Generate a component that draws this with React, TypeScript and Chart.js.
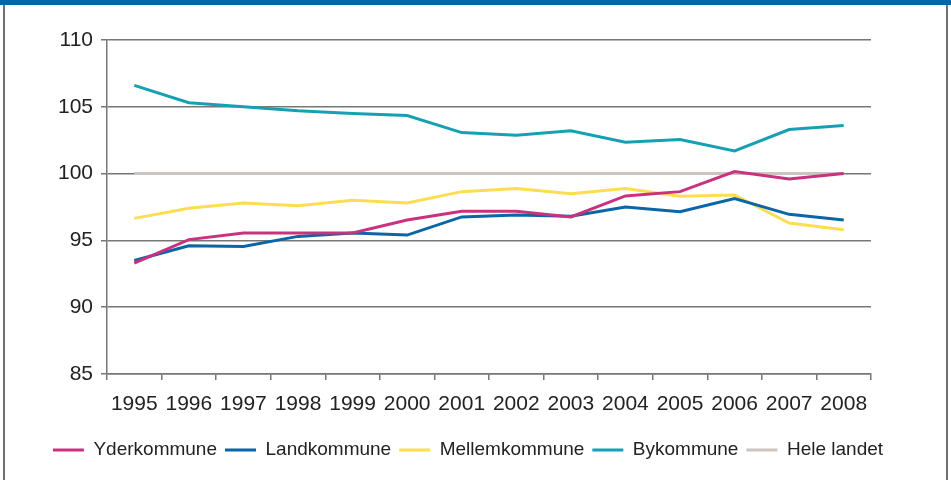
import React, { useEffect, useRef } from "react";
import { Chart, registerables } from "chart.js";

Chart.register(...registerables);

const years = ["1995", "1996", "1997", "1998", "1999", "2000", "2001", "2002", "2003", "2004", "2005", "2006", "2007", "2008"];
const yderkommune = [93.3, 95.06, 95.56, 95.56, 95.56, 96.53, 97.18, 97.18, 96.76, 98.33, 98.65, 100.15, 99.6, 100.0];
const landkommune = [93.5, 94.6, 94.55, 95.3, 95.56, 95.4, 96.76, 96.9, 96.8, 97.5, 97.15, 98.13, 96.95, 96.53];
const mellemkommune = [96.65, 97.4, 97.8, 97.6, 98.0, 97.8, 98.65, 98.88, 98.5, 98.88, 98.3, 98.4, 96.3, 95.8];
const bykommune = [106.6, 105.3, 105.0, 104.7, 104.5, 104.35, 103.07, 102.87, 103.2, 102.35, 102.55, 101.7, 103.3, 103.6];
const heleLandet = [100, 100, 100, 100, 100, 100, 100, 100, 100, 100, 100, 100, 100, 100];

const FONT = "'Liberation Sans', Arial, sans-serif";

export default function App() {
  const ref = useRef<HTMLCanvasElement | null>(null);

  useEffect(() => {
    if (!ref.current) return;
    const mk = (label: string, data: number[], color: string) => ({
      label,
      data,
      borderColor: color,
      backgroundColor: color,
      borderWidth: 3,
      pointRadius: 0,
      tension: 0,
      fill: false,
      yAxisID: "y",
    });
    const chart = new Chart(ref.current, {
      type: "line",
      data: {
        labels: years,
        datasets: [
          mk("Yderkommune", yderkommune, "#c8327f"),
          mk("Landkommune", landkommune, "#0a66a6"),
          mk("Mellemkommune", mellemkommune, "#fedd52"),
          mk("Bykommune", bykommune, "#17a0b3"),
          mk("Hele landet", heleLandet, "#cbc4bf"),
        ],
      },
      options: {
        animation: false,
        responsive: false,
        maintainAspectRatio: false,
        layout: { padding: { top: 40, right: 15, bottom: 10.5, left: 0 } },
        plugins: {
          tooltip: { enabled: false },
          legend: {
            position: "bottom",
            labels: {
              font: { family: FONT, size: 19 },
              color: "#222",
              boxWidth: 31,
              boxHeight: 3,
              padding: 8,
              generateLabels: (c: any) =>
                c.data.datasets.map((d: any, i: number) => ({
                  text: d.label,
                  fillStyle: d.borderColor,
                  strokeStyle: d.borderColor,
                  lineWidth: 0,
                  hidden: false,
                  datasetIndex: i,
                  fontColor: "#222",
                })),
            },
          },
        },
        scales: {
          x: {
            offset: true,
            grid: { display: true, offset: true, drawOnChartArea: false, drawTicks: true, tickLength: 6, color: "#777", lineWidth: 1.5 },
            border: { display: true, color: "#777", width: 1.5 },
            ticks: { font: { family: FONT, size: 21 }, color: "#222", padding: 12, maxRotation: 0, autoSkip: false },
            afterFit: (s: any) => { s.height = 58.5; },
          },
          y: {
            min: 85,
            max: 110,
            ticks: { stepSize: 5, font: { family: FONT, size: 21 }, color: "#222", padding: 8 },
            grid: { color: "#777", lineWidth: 1.5, tickLength: 6, drawTicks: true },
            border: { display: true, color: "#777", width: 1.5 },
            afterFit: (s: any) => { s.width = 107; },
          },
          yr: {
            position: "right",
            display: true,
            min: 85,
            max: 110,
            grid: { display: false, drawTicks: false },
            border: { display: false },
            ticks: { display: false },
            afterFit: (s: any) => { s.width = 65; },
          },
        },
      },
    });
    return () => chart.destroy();
  }, []);

  return (
    <div style={{ position: "absolute", left: 0, top: 0, width: 951, height: 480, background: "#fff", overflow: "hidden" }}>
      <div style={{ position: "absolute", left: 0, top: 0, width: 951, height: 5, background: "#0067a6" }} />
      <div style={{ position: "absolute", left: 3, top: 5, width: 2, height: 475, background: "#707070" }} />
      <div style={{ position: "absolute", left: 946, top: 5, width: 2, height: 475, background: "#707070" }} />
      <canvas ref={ref} width={951} height={480} style={{ position: "absolute", left: 0, top: 0, width: 951, height: 480 }} />
    </div>
  );
}
